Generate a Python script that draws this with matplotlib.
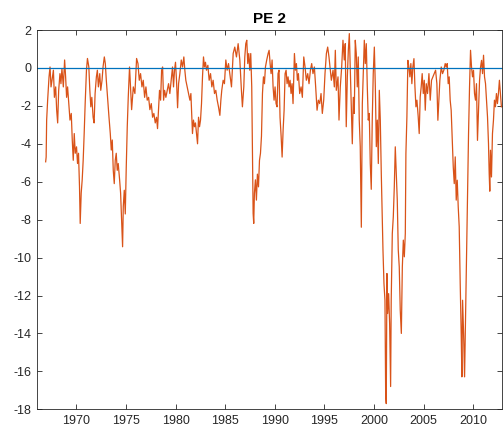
import matplotlib
matplotlib.use("Agg")
import matplotlib.pyplot as plt

plt.rcParams['font.family'] = ['Liberation Sans', 'DejaVu Sans']

# PE 2 series: (decimal year, value)
years_a = [1966.92, 1966.97, 1967.02, 1967.12, 1967.26, 1967.36, 1967.46, 1967.56, 1967.70, 1967.80,
           1967.93, 1968.03, 1968.13, 1968.23, 1968.36, 1968.46, 1968.56, 1968.70, 1968.83, 1968.93,
           1969.03, 1969.13, 1969.27, 1969.37, 1969.50, 1969.60, 1969.70, 1969.80, 1969.90, 1970.03,
           1970.13, 1970.23, 1970.33, 1970.40, 1970.50, 1970.60, 1970.70, 1970.80, 1970.90, 1971.03,
           1971.13, 1971.27, 1971.37, 1971.47, 1971.57, 1971.70, 1971.80, 1971.90, 1972.03, 1972.13,
           1972.23, 1972.37, 1972.47, 1972.60, 1972.70, 1972.83, 1972.93, 1973.03, 1973.17, 1973.30,
           1973.43, 1973.53, 1973.63, 1973.73, 1973.83, 1973.93, 1974.03, 1974.13, 1974.23, 1974.37,
           1974.47, 1974.57, 1974.67, 1974.74, 1974.84, 1974.94, 1975.04, 1975.14, 1975.24, 1975.37]
values_a = [-4.95, -4.7, -2.75, -1.7, -0.47, 0.05, -1.0, -0.65, -0.12, -1.55,
            -1.0, -2.23, -2.9, -1.2, -0.3, -0.83, -0.03, -1.0, 0.42, -0.47,
            -1.55, -1.0, -2.05, -2.75, -2.4, -3.8, -4.87, -3.46, -4.5, -4.16,
            -5.04, -4.5, -6.27, -8.2, -6.6, -5.9, -4.87, -3.46, -1.88, -0.12,
            0.5, 0.05, -1.18, -2.05, -1.55, -2.6, -2.9, -1.35, -0.47, -0.12,
            -1.0, -0.3, -1.18, -0.65, 0.05, 0.58, 0.23, -0.65, -1.7, -2.6,
            -3.46, -4.33, -3.8, -5.4, -6.1, -4.87, -4.5, -5.4, -5.04, -5.9,
            -6.6, -8.0, -9.43, -7.3, -6.45, -7.7, -5.2, -3.1, -1.55, 0.05]

years_b = [1975.58, 1975.75, 1975.91, 1976.08, 1976.22, 1976.35, 1976.48, 1976.62, 1976.75, 1976.89,
           1977.02, 1977.15, 1977.29, 1977.42, 1977.56, 1977.69, 1977.82, 1977.96, 1978.09, 1978.19,
           1978.29, 1978.39, 1978.50, 1978.60, 1978.70, 1978.80, 1978.90, 1979.03, 1979.17, 1979.30,
           1979.43, 1979.57, 1979.70, 1979.80, 1979.90, 1980.00, 1980.10, 1980.21, 1980.31, 1980.44,
           1980.58, 1980.71, 1980.84, 1980.94, 1981.04, 1981.18, 1981.31, 1981.45, 1981.55, 1981.65,
           1981.71, 1981.81, 1981.91, 1982.01, 1982.12, 1982.22, 1982.32, 1982.42, 1982.52, 1982.62,
           1982.72, 1982.82, 1982.92, 1983.02, 1983.12, 1983.26, 1983.39, 1983.53, 1983.66, 1983.79,
           1983.93, 1984.06, 1984.20, 1984.33, 1984.47, 1984.57, 1984.66, 1984.80, 1984.93, 1985.07,
           1985.20, 1985.34]
values_b = [-2.2, -1.0, -1.35, 0.5, 0.23, -0.65, -0.3, -1.0, -0.65, -1.55,
            -1.0, -1.7, -1.55, -2.2, -1.88, -2.6, -2.4, -2.9, -2.6, -3.2,
            -2.2, -1.18, -1.7, -0.12, 0.05, -1.7, -1.18, -1.55, -1.18, -0.83,
            -1.35, -0.65, 0.05, -1.0, -0.12, 0.3, -0.65, -2.1, -0.83, -0.3,
            0.42, 0.05, 0.58, -0.12, -0.65, -1.0, -1.35, -1.7, -1.35, -2.6,
            -3.46, -2.75, -3.1, -2.9, -3.5, -4.0, -2.6, -3.1, -2.75, -1.88,
            -0.47, 0.58, 0.05, 0.3, -0.12, 0.14, -0.65, -0.3, -1.0, -0.65,
            -1.35, -1.18, -1.7, -2.05, -2.5, -1.7, -1.18, -0.65, -0.83, 0.42,
            -0.12, 0.23]

years_c = [1985.47, 1985.64, 1985.81, 1985.97, 1986.14, 1986.31, 1986.48, 1986.64, 1986.74, 1986.88,
           1986.98, 1987.08, 1987.18, 1987.28, 1987.38, 1987.48, 1987.58, 1987.68, 1987.75, 1987.82,
           1987.88, 1987.95, 1988.05, 1988.15, 1988.25, 1988.36, 1988.46, 1988.56, 1988.66, 1988.76,
           1988.86, 1988.96, 1989.06, 1989.19, 1989.33, 1989.43, 1989.53, 1989.63, 1989.73, 1989.83,
           1989.93, 1990.03, 1990.13, 1990.23, 1990.33, 1990.43, 1990.53, 1990.64, 1990.74, 1990.84,
           1990.94, 1991.04, 1991.14, 1991.24, 1991.34, 1991.44, 1991.54, 1991.64, 1991.74, 1991.84,
           1991.98, 1992.08, 1992.18, 1992.28, 1992.38, 1992.51, 1992.65, 1992.78, 1992.92, 1993.05,
           1993.18, 1993.32, 1993.45, 1993.59, 1993.72, 1993.85, 1993.99, 1994.12, 1994.26, 1994.39,
           1994.53, 1994.66, 1994.79, 1994.93, 1995.06, 1995.20, 1995.33, 1995.46]
values_c = [-0.3, -1.0, 0.76, 1.1, 0.58, 1.28, 0.42, -1.18, -2.05, -1.0,
            0.58, 1.28, 1.46, 0.23, 0.76, -0.12, 0.76, -1.0, -4.5, -7.67,
            -8.2, -6.6, -5.9, -6.97, -5.6, -6.27, -4.87, -4.5, -3.6, -1.35,
            -0.47, -0.83, 0.05, 0.42, 0.76, 0.93, 0.23, -0.3, 0.42, -1.0,
            -1.7, -1.0, -1.88, -2.05, -0.3, -0.12, -2.6, -3.6, -4.7, -3.28,
            -2.23, -0.3, -0.12, -0.83, -0.47, -1.0, -0.65, -1.35, -0.83, -1.88,
            0.76, -0.12, 0.23, -0.65, -0.3, -1.35, -1.0, -1.55, 0.58, 0.05,
            -0.65, -0.3, -0.83, -0.12, 0.23, -0.3, 0.05, -1.0, -2.23, -1.7,
            -1.88, -1.35, -2.4, -1.7, -0.3, 0.76, 1.1, 0.58]

years_d = [1995.70, 1995.87, 1996.00, 1996.10, 1996.20, 1996.37, 1996.47, 1996.60, 1996.74, 1996.87,
           1997.00, 1997.10, 1997.20, 1997.31, 1997.41, 1997.51, 1997.61, 1997.71, 1997.81, 1997.91,
           1998.01, 1998.11, 1998.21, 1998.31, 1998.41, 1998.51, 1998.61, 1998.72, 1998.82, 1998.92,
           1999.02, 1999.12, 1999.22, 1999.32, 1999.42, 1999.52, 1999.62, 1999.72, 1999.82, 1999.92,
           2000.03, 2000.13, 2000.23, 2000.33, 2000.43, 2000.53, 2000.63]
values_d = [-0.65, -0.12, -1.0, 0.93, -1.18, -0.47, -2.75, -1.0, 0.05, 1.46,
            0.42, 1.28, -3.1, -0.47, 0.93, 1.81, -0.12, -1.88, -4.0, -1.55,
            -2.4, 1.46, 0.76, -1.0, 0.58, -2.75, -4.15, -8.4, -1.88, -0.12,
            1.46, 0.23, 1.28, -1.0, -2.75, -2.4, -5.04, -6.4, -2.75, -0.3,
            1.1, -1.0, -4.15, -2.75, -5.04, -1.18, -2.75]

years_e = [2000.73, 2000.83, 2000.90, 2001.00, 2001.10, 2001.17, 2001.23, 2001.30, 2001.37, 2001.47,
           2001.57, 2001.67, 2001.73, 2001.84, 2001.94, 2002.04, 2002.14, 2002.24, 2002.34, 2002.44,
           2002.54, 2002.64, 2002.75, 2002.85, 2002.95, 2003.05, 2003.15, 2003.21, 2003.31, 2003.41,
           2003.51, 2003.61, 2003.71, 2003.81, 2003.91, 2004.02, 2004.12, 2004.22, 2004.32, 2004.45,
           2004.55, 2004.65, 2004.75, 2004.85, 2004.96, 2005.06, 2005.16, 2005.26, 2005.39, 2005.53,
           2005.66, 2005.79, 2005.93, 2006.06, 2006.20, 2006.33, 2006.43, 2006.53, 2006.63, 2006.77,
           2006.90, 2007.03, 2007.17, 2007.27, 2007.37, 2007.47, 2007.57, 2007.67, 2007.77, 2007.87,
           2007.98, 2008.08, 2008.18, 2008.28, 2008.38, 2008.48, 2008.58, 2008.68, 2008.78, 2008.85,
           2008.92, 2009.02, 2009.12, 2009.22, 2009.32, 2009.42, 2009.52, 2009.62, 2009.72, 2009.82,
           2009.92, 2010.02, 2010.12, 2010.22, 2010.32, 2010.42, 2010.52, 2010.63, 2010.73, 2010.83,
           2010.93, 2011.03, 2011.13, 2011.23, 2011.33, 2011.43, 2011.53, 2011.60, 2011.66, 2011.73,
           2011.83, 2011.93, 2012.03, 2012.13, 2012.23, 2012.33, 2012.43, 2012.53, 2012.63, 2012.73,
           2012.83]
values_e = [-5.57, -7.85, -9.6, -11.37, -12.25, -17.16, -17.7, -10.84, -12.95, -11.9,
            -13.47, -16.8, -12.25, -8.73, -7.85, -6.27, -4.16, -5.57, -6.97, -9.6,
            -10.49, -12.77, -14.0, -10.49, -9.08, -9.96, -8.73, -4.51, -2.58, 0.4,
            0.05, -0.47, 0.23, -0.83, 0.05, 0.49, -1.0, -2.05, -1.7, -2.58,
            -3.46, -1.53, -1.0, -0.3, -1.35, -0.65, -2.23, -0.83, -1.35, -0.3,
            -1.7, -0.65, -0.47, -0.3, -0.12, -0.83, -2.76, -1.7, -0.65, 0.05,
            -0.3, -0.12, 0.23, 0.05, 0.23, -0.83, -0.47, -1.7, -2.23, -3.64,
            -5.22, -6.1, -4.69, -6.97, -5.92, -7.32, -8.38, -11.37, -14.0, -16.29,
            -12.25, -14.0, -16.29, -13.12, -9.6, -6.97, -3.46, -1.0, 0.93, 0.05,
            -0.47, -0.12, -1.35, -1.7, -0.83, -3.82, -2.23, -0.65, 0.05, 0.4,
            -0.3, 0.67, -0.47, -0.83, -1.7, -2.58, -3.99, -5.57, -6.5, -4.34,
            -5.75, -3.46, -2.76, -1.7, -2.05, -1.35, -1.88, -1.35, -0.65, -1.35,
            -2.05]

years = years_a + years_b + years_c + years_d + years_e
values = values_a + values_b + values_c + values_d + values_e

x_ticks = [1970, 1975, 1980, 1985, 1990, 1995, 2000, 2005, 2010]
y_ticks = [-18, -16, -14, -12, -10, -8, -6, -4, -2, 0, 2]

axis_gray = (0.15, 0.15, 0.15)
line_orange = (0.850, 0.325, 0.098)
line_blue = (0.0, 0.447, 0.741)

fig = plt.figure(figsize=(5.03, 4.40), dpi=100)
ax = fig.add_axes([0.0736, 0.0698, 0.9250, 0.8620])

ax.plot(years, values, color=line_orange, linewidth=0.9)
ax.axhline(0, color=line_blue, linewidth=0.9)

ax.set_xlim(1966.05, 2012.92)
ax.set_ylim(-18, 2)
ax.set_xticks(x_ticks)
ax.set_yticks(y_ticks)
ax.set_xticklabels([str(t) for t in x_ticks])
ax.set_yticklabels([str(t) for t in y_ticks])

ax.tick_params(direction='in', length=3.5, width=0.6, colors=axis_gray,
               labelsize=9, top=True, right=True, pad=4)
for side in ax.spines.values():
    side.set_color(axis_gray)
    side.set_linewidth(0.6)

ax.set_title('PE 2', fontsize=11, fontweight='bold', color='black', pad=5)

fig.savefig('out.png', dpi=100)
